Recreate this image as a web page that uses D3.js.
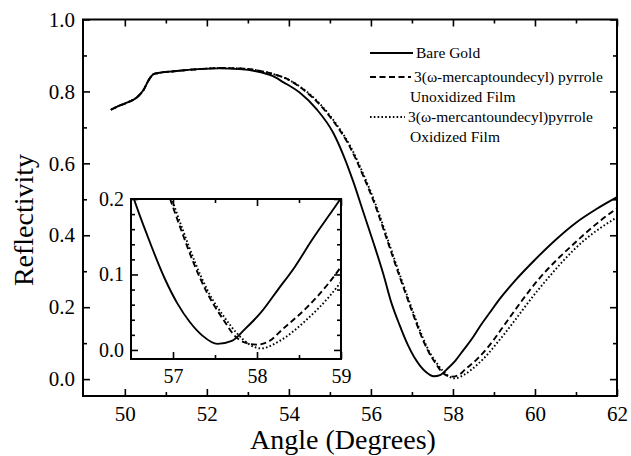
<!DOCTYPE html>
<html>
<head>
<meta charset="utf-8">
<script src="https://cdn.jsdelivr.net/npm/d3@7"></script>
<style>
  html, body { margin: 0; padding: 0; background: #fff; }
  svg { display: block; }
  text { font-family: "Liberation Serif", "Tinos", "Times New Roman", Times, "DejaVu Serif", "Noto Serif", serif; fill: #000; }
</style>
</head>
<body>
<svg id="chart" width="631" height="456"></svg>
<script>
// ---------- data ----------
const seriesNames = [
  "Bare Gold",
  "3(\u03c9-mercaptoundecyl) pyrrole",
  "3(\u03c9-mercantoundecyl)pyrrole"
];
const seriesSubNames = ["", "Unoxidized Film", "Oxidized Film"];

const angleBare = [49.66, 49.88, 50.08, 50.3, 50.45, 50.6, 50.7, 50.85, 51.2, 51.8, 52.3, 52.8, 53.2, 53.6, 53.86, 54.27, 54.68, 55.08, 55.32, 55.57, 55.81, 56.06, 56.3, 56.5, 56.7, 56.9, 57.05, 57.2, 57.35, 57.53, 57.7, 57.85, 58.05, 58.25, 58.45, 58.65, 58.9, 59.1, 59.5, 60.0, 60.5, 61.0, 61.5, 62.0];
const reflBare  = [0.749, 0.761, 0.770, 0.784, 0.803, 0.835, 0.848, 0.852, 0.856, 0.862, 0.864, 0.862, 0.856, 0.843, 0.826, 0.796, 0.750, 0.685, 0.625, 0.549, 0.466, 0.380, 0.293, 0.212, 0.150, 0.095, 0.062, 0.037, 0.019, 0.008, 0.012, 0.027, 0.050, 0.080, 0.110, 0.145, 0.185, 0.217, 0.272, 0.332, 0.387, 0.435, 0.473, 0.506];

const angleUnox = [49.66, 49.88, 50.08, 50.3, 50.45, 50.6, 50.7, 50.85, 51.2, 51.8, 52.3, 52.8, 53.2, 53.6, 54.0, 54.27, 54.68, 55.08, 55.49, 55.81, 56.14, 56.4, 56.7, 56.95, 57.1, 57.25, 57.4, 57.6, 57.75, 57.85, 58.0, 58.15, 58.3, 58.6, 58.85, 59.0, 59.25, 60.07, 61.04, 61.61, 62.0];
const reflUnox  = [0.749, 0.761, 0.770, 0.784, 0.803, 0.835, 0.848, 0.852, 0.856, 0.862, 0.865, 0.864, 0.859, 0.849, 0.832, 0.812, 0.772, 0.718, 0.645, 0.566, 0.472, 0.385, 0.285, 0.205, 0.158, 0.114, 0.077, 0.040, 0.017, 0.010, 0.007, 0.012, 0.027, 0.057, 0.088, 0.110, 0.150, 0.275, 0.386, 0.442, 0.475];

const angleOx = [49.66, 49.88, 50.08, 50.3, 50.45, 50.6, 50.7, 50.85, 51.2, 51.8, 52.3, 52.8, 53.2, 53.6, 54.0, 54.29, 54.7, 55.1, 55.51, 55.83, 56.16, 56.42, 56.72, 56.97, 57.12, 57.27, 57.42, 57.62, 57.77, 57.9, 58.05, 58.27, 58.59, 58.87, 59.0, 59.25, 60.07, 61.2, 62.0];
const reflOx  = [0.749, 0.761, 0.770, 0.784, 0.803, 0.835, 0.848, 0.852, 0.856, 0.862, 0.865, 0.864, 0.859, 0.849, 0.832, 0.812, 0.772, 0.718, 0.645, 0.566, 0.472, 0.385, 0.285, 0.205, 0.158, 0.114, 0.077, 0.042, 0.021, 0.008, 0.002, 0.012, 0.040, 0.072, 0.090, 0.125, 0.247, 0.386, 0.450];

const xTicksMain = [50, 52, 54, 56, 58, 60, 62];
const xMinorMain = [51, 53, 55, 57, 59, 61];
const yTicksMain = [0.0, 0.2, 0.4, 0.6, 0.8, 1.0];
const yMinorMain = [0.1, 0.3, 0.5, 0.7, 0.9];
const xTicksInset = [57, 58, 59];
const xMinorInset = [57.5, 58.5];
const yTicksInset = [0.0, 0.1, 0.2];
const yMinorInset = [0.02, 0.04, 0.06, 0.08, 0.12, 0.14, 0.16, 0.18];

// ---------- drawing ----------
const FONT = '"Liberation Serif", "Tinos", "Times New Roman", Times, "DejaVu Serif", "Noto Serif", serif';
const svg = d3.select("#chart");
const series = [
  {x: angleBare, y: reflBare, dash: null},
  {x: angleUnox, y: reflUnox, dash: "6,3.5"},
  {x: angleOx,   y: reflOx,   dash: "1.6,2.2"}
];

function drawPanel(g, x, y, opt) {
  const [x0, x1] = x.range(), [y0, y1] = y.range();
  const fmt = d3.format(".1f");
  g.append("rect").attr("x", x0).attr("y", y1).attr("width", x1 - x0).attr("height", y0 - y1)
    .attr("fill", "#fff");
  const clipId = opt.id + "-clip";
  g.append("clipPath").attr("id", clipId).append("rect")
    .attr("x", x0).attr("y", y1).attr("width", x1 - x0).attr("height", y0 - y1);
  const cg = g.append("g").attr("clip-path", `url(#${clipId})`);
  series.forEach(s => {
    const pts = s.x.map((v, i) => [v, s.y[i]]);
    const line = d3.line().x(d => x(d[0])).y(d => y(d[1])).curve(d3.curveMonotoneX);
    cg.append("path").attr("d", line(pts)).attr("fill", "none").attr("stroke", "#000")
      .attr("stroke-width", 1.9).attr("stroke-dasharray", s.dash);
  });
  const MAJ = opt.maj, MIN = opt.min;
  function ax(gen, tr, vals, size, labels, pad, fs) {
    const a = gen.tickValues(vals).tickSizeInner(-size).tickSizeOuter(0).tickPadding(pad)
      .tickFormat(labels ? labels : "");
    const gg = g.append("g").attr("transform", tr).call(a);
    gg.attr("font-family", FONT).attr("font-size", fs);
    gg.select(".domain").remove();
    gg.selectAll(".tick line").attr("stroke", "#000").attr("stroke-width", 1.6);
    gg.selectAll("text").attr("font-size", fs).attr("font-family", FONT).attr("fill", "#000");
    return gg;
  }
  ax(d3.axisBottom(x), `translate(0,${y0})`, opt.xt, MAJ, opt.xfmt, opt.xpad, opt.fs);
  ax(d3.axisBottom(x), `translate(0,${y0})`, opt.xm, MIN, null, 0, opt.fs);
  ax(d3.axisTop(x), `translate(0,${y1})`, opt.xt, MAJ, null, 0, opt.fs);
  ax(d3.axisTop(x), `translate(0,${y1})`, opt.xm, MIN, null, 0, opt.fs);
  ax(d3.axisLeft(y), `translate(${x0},0)`, opt.yt, MAJ, fmt, opt.ypad, opt.fs);
  ax(d3.axisLeft(y), `translate(${x0},0)`, opt.ym, MIN, null, 0, opt.fs);
  ax(d3.axisRight(y), `translate(${x1},0)`, opt.yt, MAJ, null, 0, opt.fs);
  ax(d3.axisRight(y), `translate(${x1},0)`, opt.ym, MIN, null, 0, opt.fs);
  g.append("rect").attr("x", x0).attr("y", y1).attr("width", x1 - x0).attr("height", y0 - y1)
    .attr("fill", "none").attr("stroke", "#000").attr("stroke-width", 2);
}

// main panel
const xMain = d3.scaleLinear().domain([48.98, 62]).range([83, 617]);
const yMain = d3.scaleLinear().domain([-0.047, 1.0]).range([396, 19.5]);
drawPanel(svg.append("g"), xMain, yMain, {
  id: "main", maj: 7, min: 4, xt: xTicksMain, xm: xMinorMain, yt: yTicksMain, ym: yMinorMain,
  xfmt: d3.format("d"), xpad: 10, ypad: 8, fs: 21
});

// axis titles
svg.append("text").attr("x", 343).attr("y", 449).attr("text-anchor", "middle")
  .attr("font-family", FONT).attr("font-size", 28).text("Angle (Degrees)");
svg.append("text").attr("transform", "translate(33,220) rotate(-90)").attr("text-anchor", "middle")
  .attr("font-family", FONT).attr("font-size", 28).text("Reflectivity");

// legend
const leg = svg.append("g").attr("font-family", FONT);
const legRows = [
  {y: 53, text: seriesNames[0], sub: null, subY: 0, x2: 413},
  {y: 77, text: seriesNames[1], sub: seriesSubNames[1], subY: 97, x2: 411},
  {y: 117, text: seriesNames[2], sub: seriesSubNames[2], subY: 137, x2: 405}
];
legRows.forEach((r, i) => {
  leg.append("line").attr("x1", 370).attr("x2", r.x2).attr("y1", r.y).attr("y2", r.y)
    .attr("stroke", "#000").attr("stroke-width", 1.9).attr("stroke-dasharray", series[i].dash);
  leg.append("text").attr("x", r.x2 + 3).attr("y", r.y + 5).attr("font-size", 15.5).text(r.text);
  if (r.sub) leg.append("text").attr("x", 410).attr("y", r.subY + 5).attr("font-size", 15.5).text(r.sub);
});

// inset panel
const xIn = d3.scaleLinear().domain([56.5, 59]).range([131, 341]);
const yIn = d3.scaleLinear().domain([-0.012, 0.2]).range([359, 199]);
drawPanel(svg.append("g"), xIn, yIn, {
  id: "inset", maj: 7, min: 4, xt: xTicksInset, xm: xMinorInset, yt: yTicksInset, ym: yMinorInset,
  xfmt: d3.format("d"), xpad: 10, ypad: 7, fs: 20
});
</script>
</body>
</html>
